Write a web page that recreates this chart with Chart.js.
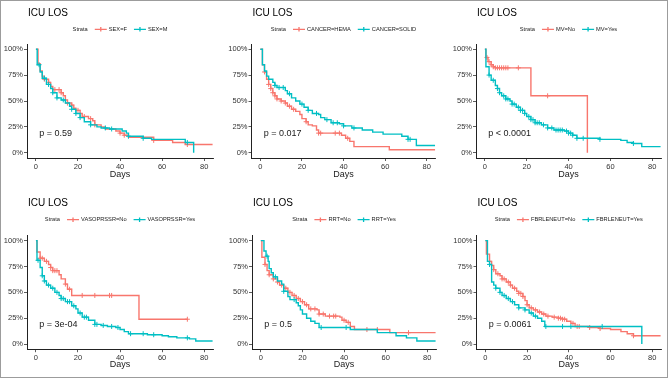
<!DOCTYPE html>
<html>
<head>
<meta charset="utf-8">
<script src="https://cdn.jsdelivr.net/npm/chart.js@4.4.1/dist/chart.umd.min.js"></script>
<style>
  html, body { margin: 0; padding: 0; background: #fff; }
  #fig { position: relative; width: 668px; height: 378px; overflow: hidden; background: #fff; }
  #fig canvas { position: absolute; }
  #frame { position: absolute; left: 0; top: 0; width: 668px; height: 378px; box-sizing: border-box; border: 1px solid #9c9c9c; pointer-events: none; }
</style>
</head>
<body>
<div id="fig">
  <canvas id="c1" width="222" height="189" style="left:0;top:0"></canvas>
  <canvas id="c2" width="223" height="189" style="left:222px;top:0"></canvas>
  <canvas id="c3" width="223" height="189" style="left:445px;top:0"></canvas>
  <canvas id="c4" width="222" height="189" style="left:0;top:189px"></canvas>
  <canvas id="c5" width="223" height="189" style="left:222px;top:189px"></canvas>
  <canvas id="c6" width="223" height="189" style="left:445px;top:189px"></canvas>
  <div id="frame"></div>
</div>
<script>
// ---- data ----
const xTicks = [0, 20, 40, 60, 80];
const yTicks = [0, 0.25, 0.5, 0.75, 1];
const plotTitle = 'ICU LOS';
const xTitle = 'Days';
const pvalues = ['p = 0.59', 'p = 0.017', 'p < 0.0001', 'p = 3e-04', 'p = 0.5', 'p = 0.0061'];
const strata = [
  ['SEX=F', 'SEX=M'],
  ['CANCER=HEMA', 'CANCER=SOLID'],
  ['MV=No', 'MV=Yes'],
  ['VASOPRSSR=No', 'VASOPRSSR=Yes'],
  ['RRT=No', 'RRT=Yes'],
  ['FBRLENEUT=No', 'FBRLENEUT=Yes']
];

// SEX
const sexF_time = [0, 1, 2, 3, 4, 6, 7, 8, 12, 13, 14, 15, 17, 18, 19, 21, 22, 25, 27, 28, 31, 33, 38, 40, 42, 44, 56, 65, 71, 84];
const sexF_surv = [1, .86, .79, .74, .71, .68, .64, .61, .58, .55, .51, .48, .46, .43, .41, .38, .35, .33, .31, .27, .25, .23, .21, .19, .17, .15, .12, .10, .08, .08];
const sexF_cens = [4, 6, 9, 11, 12, 15, 17, 20, 23, 26, 28, 40, 42, 56, 72];
const sexM_time = [0, 0.6, 2, 3, 5, 7, 8, 10, 12, 14, 16, 17, 19, 21, 23, 26, 29, 31, 35, 41, 43, 44, 51, 55, 71, 75];
const sexM_surv = [1, .85, .78, .72, .66, .62, .58, .53, .51, .48, .45, .42, .38, .34, .30, .27, .25, .24, .23, .21, .19, .16, .14, .13, .10, 0];
const sexM_cens = [1.5, 4, 6, 8, 10, 13, 17, 19, 21, 26, 33, 36, 44, 51, 72];

// CANCER
const hema_time = [0, 1, 2, 3, 4, 5, 6, 7, 8, 10, 12, 13, 15, 17, 19, 20, 22, 23, 25, 27, 28, 39, 41, 43, 45, 62, 84];
const hema_surv = [1, .85, .78, .71, .66, .62, .58, .55, .52, .50, .48, .45, .42, .40, .37, .33, .30, .27, .26, .22, .19, .17, .14, .11, .06, .03, .03];
const hema_cens = [2, 4, 5, 6, 7, 8, 10, 12, 14, 16, 22, 28, 29, 36, 38, 42];
const solid_time = [0, 1, 2, 3, 4, 6, 7, 8, 12, 13, 15, 17, 19, 21, 23, 25, 28, 29, 31, 34, 38, 40, 44, 49, 54, 59, 68, 71, 75, 84];
const solid_surv = [1, .85, .79, .74, .71, .68, .65, .63, .60, .57, .53, .50, .47, .44, .41, .38, .37, .34, .32, .29, .28, .26, .24, .22, .20, .18, .16, .13, .07, .07];
const solid_cens = [7, 9, 11, 14, 20, 23, 27, 32, 35, 37, 40, 45, 71, 72];

// MV
const mvNo_time = [0, 0.5, 1.5, 3, 4, 5, 22, 49];
const mvNo_surv = [1, .92, .88, .85, .83, .82, .55, 0];
const mvNo_cens = [1, 2, 3, 4, 5, 6, 7, 8, 9, 10, 11, 16, 30];
const mvYes_time = [0, 0.5, 2, 3, 5, 6, 7, 8, 10, 12, 13, 15, 17, 19, 20, 22, 24, 27, 30, 33, 38, 40, 42, 44, 55, 65, 68, 71, 75, 84];
const mvYes_surv = [1, .83, .75, .70, .65, .62, .58, .55, .52, .50, .47, .44, .41, .38, .35, .32, .29, .27, .24, .22, .21, .19, .17, .14, .13, .12, .10, .09, .06, .06];
const mvYes_cens = [2, 4, 6, 7, 9, 10, 11, 13, 14, 16, 17, 18, 19, 21, 22, 23, 24, 25, 26, 28, 30, 32, 34, 35, 36, 37, 39, 40, 41, 42, 44, 47, 55, 71];

// VASOPRSSR
const vasoNo_time = [0, 0.5, 2, 4, 6, 7, 8, 11, 12, 14, 15, 17, 49, 72];
const vasoNo_surv = [1, .89, .83, .80, .77, .74, .71, .67, .63, .58, .53, .47, .24, .24];
const vasoNo_cens = [2, 3, 5, 7, 8, 9, 10, 14, 16, 22, 28, 35, 36, 72];
const vasoYes_time = [0, 0.5, 2, 3, 4, 5, 7, 9, 11, 12, 14, 17, 19, 20, 22, 25, 28, 31, 34, 38, 40, 42, 44, 53, 60, 63, 67, 73, 76, 84];
const vasoYes_surv = [1, .81, .74, .66, .61, .57, .54, .50, .47, .44, .41, .37, .34, .30, .26, .23, .19, .18, .17, .16, .14, .12, .10, .09, .08, .07, .06, .05, .03, .03];
const vasoYes_cens = [1, 3, 4, 6, 8, 10, 12, 13, 15, 16, 18, 21, 23, 24, 28, 29, 32, 36, 39, 45, 51, 56, 72];

// RRT
const rrtNo_time = [0, 0.5, 2, 3, 4, 6, 8, 9, 11, 13, 15, 17, 19, 21, 23, 27, 28, 31, 38, 39, 41, 43, 45, 62, 84];
const rrtNo_surv = [1, .84, .77, .71, .67, .63, .60, .57, .54, .50, .47, .44, .41, .38, .34, .33, .29, .27, .26, .23, .21, .17, .14, .11, .11];
const rrtNo_cens = [2, 4, 6, 8, 10, 12, 14, 16, 18, 20, 22, 24, 26, 28, 30, 33, 35, 36, 40, 42, 51, 56, 71];
const rrtYes_time = [0, 1.5, 2.5, 3.5, 4, 5, 6, 8, 10, 11, 13, 14, 17, 18, 19, 20, 22, 24, 26, 28, 43, 56, 65, 70, 75, 84];
const rrtYes_surv = [1, .90, .85, .80, .73, .69, .65, .61, .58, .51, .46, .43, .40, .37, .33, .29, .25, .22, .20, .16, .14, .11, .08, .06, .03, .03];
const rrtYes_cens = [3, 7, 11, 16, 29, 41];

// FBRLENEUT
const fbrNo_time = [0, 0.5, 2, 3, 4, 5, 7, 8, 10, 12, 13, 15, 16, 18, 19, 20, 21, 23, 25, 27, 29, 32, 35, 37, 39, 41, 43, 50, 55, 60, 65, 68, 71, 84];
const fbrNo_surv = [1, .87, .80, .76, .72, .68, .66, .63, .60, .57, .54, .51, .49, .46, .42, .38, .35, .33, .31, .29, .27, .26, .25, .24, .22, .20, .17, .16, .15, .14, .12, .10, .08, .08];
const fbrNo_cens = [2, 4, 6, 8, 9, 11, 12, 14, 16, 17, 18, 20, 22, 24, 26, 28, 30, 33, 35, 36, 37, 38, 42, 44, 45, 50, 55, 71];
const fbrYes_time = [0, 1, 2, 3, 4, 5, 7, 8, 10, 12, 14, 16, 19, 21, 23, 25, 27, 28.5, 75];
const fbrYes_surv = [1, .80, .77, .60, .57, .54, .50, .47, .44, .41, .38, .35, .33, .30, .27, .25, .22, .17, 0];
const fbrYes_cens = [2, 5, 7, 9, 11, 13, 16, 19, 22, 24, 29, 37, 41, 56];

const curves = [
  [[sexF_time, sexF_surv, sexF_cens], [sexM_time, sexM_surv, sexM_cens]],
  [[hema_time, hema_surv, hema_cens], [solid_time, solid_surv, solid_cens]],
  [[mvNo_time, mvNo_surv, mvNo_cens], [mvYes_time, mvYes_surv, mvYes_cens]],
  [[vasoNo_time, vasoNo_surv, vasoNo_cens], [vasoYes_time, vasoYes_surv, vasoYes_cens]],
  [[rrtNo_time, rrtNo_surv, rrtNo_cens], [rrtYes_time, rrtYes_surv, rrtYes_cens]],
  [[fbrNo_time, fbrNo_surv, fbrNo_cens], [fbrYes_time, fbrYes_surv, fbrYes_cens]]
];

// ---- layout / style ----
const RED = '#F8766D', TEAL = '#00BFC4';
const FONT = '"Liberation Sans", Arial, Helvetica, sans-serif';

const boxes = [
  {id: 'c1', w: 222, h: 189, axis: 27, right: 213, plotTop: 44, plotBot: 158, titleY: 15.5, legendY: 29.3, daysPad: 9.3},
  {id: 'c2', w: 223, h: 189, axis: 29.5, right: 213.5, plotTop: 44, plotBot: 158, titleY: 15.5, legendY: 29.3, daysPad: 9.3},
  {id: 'c3', w: 223, h: 189, axis: 31, right: 216, plotTop: 44, plotBot: 158, titleY: 15.5, legendY: 29.3, daysPad: 9.3},
  {id: 'c4', w: 222, h: 189, axis: 27, right: 213, plotTop: 46.5, plotBot: 160.2, titleY: 17, legendY: 30.7, daysPad: 7.9},
  {id: 'c5', w: 223, h: 189, axis: 30, right: 214, plotTop: 46.5, plotBot: 160.2, titleY: 17, legendY: 30.7, daysPad: 7.9},
  {id: 'c6', w: 223, h: 189, axis: 31.5, right: 216, plotTop: 46.5, plotBot: 160.2, titleY: 17, legendY: 30.7, daysPad: 7.9}
];

function stepPoints(times, surv) {
  return times.map((t, i) => ({x: t, y: surv[i]}));
}

// survival value of the step curve at time t (for placing censor ticks on it)
function survAt(times, surv, t) {
  let s = surv[0];
  for (let i = 0; i < times.length; i++) {
    if (times[i] <= t) s = surv[i];
  }
  return s;
}

function censPoints(times, surv, cens) {
  return cens.map(t => ({x: t, y: survAt(times, surv, t)}));
}

const kmDecor = {
  id: 'kmDecor',
  afterDraw(chart, args, opts) {
    const {ctx, chartArea: a, scales: {x, y}} = chart;
    ctx.save();

    // title
    ctx.fillStyle = '#000';
    ctx.textAlign = 'left';
    ctx.textBaseline = 'alphabetic';
    ctx.font = '10px ' + FONT;
    ctx.fillText(opts.title, a.left + 1, opts.titleY);

    // p value
    ctx.font = '9px ' + FONT;
    ctx.fillStyle = '#1a1a1a';
    ctx.textBaseline = 'middle';
    ctx.fillText(opts.pval, x.getPixelForValue(1.6), y.getPixelForValue(0.19));

    // legend: Strata  -+- label  -+- label
    ctx.font = '5.7px ' + FONT;
    const wS = ctx.measureText('Strata').width;
    const w1 = ctx.measureText(opts.names[0]).width;
    const w2 = ctx.measureText(opts.names[1]).width;
    const keyW = 12, gapKey = 2, gapItem = 7;
    const total = wS + gapItem + keyW + gapKey + w1 + gapItem + keyW + gapKey + w2;
    let cx = (a.left + a.right) / 2 - total / 2;
    const ly = opts.legendY;
    ctx.fillStyle = '#222';
    ctx.fillText('Strata', cx, ly);
    cx += wS + gapItem;
    [RED, TEAL].forEach((col, i) => {
      ctx.strokeStyle = col;
      ctx.lineWidth = 1.3;
      ctx.beginPath();
      ctx.moveTo(cx, ly);
      ctx.lineTo(cx + keyW, ly);
      ctx.moveTo(cx + keyW / 2, ly - 2.2);
      ctx.lineTo(cx + keyW / 2, ly + 2.2);
      ctx.stroke();
      cx += keyW + gapKey;
      ctx.fillStyle = '#222';
      ctx.fillText(opts.names[i], cx, ly);
      cx += (i === 0 ? w1 : w2) + gapItem;
    });

    ctx.restore();
  }
};

boxes.forEach((b, k) => {
  const [a, c] = curves[k];
  new Chart(document.getElementById(b.id), {
    type: 'line',
    data: {
      datasets: [
        {label: strata[k][0], data: stepPoints(a[0], a[1]), borderColor: RED, stepped: 'before', order: 3},
        {label: strata[k][0] + ' censored', data: censPoints(a[0], a[1], a[2]), borderColor: RED, showLine: false,
         pointStyle: 'cross', pointRadius: 2.5, pointBorderWidth: 1, pointBorderColor: RED, order: 2},
        {label: strata[k][1], data: stepPoints(c[0], c[1]), borderColor: TEAL, stepped: 'before', order: 1},
        {label: strata[k][1] + ' censored', data: censPoints(c[0], c[1], c[2]), borderColor: TEAL, showLine: false,
         pointStyle: 'cross', pointRadius: 2.5, pointBorderWidth: 1, pointBorderColor: TEAL, order: 0}
      ]
    },
    options: {
      responsive: false,
      animation: false,
      devicePixelRatio: 1,
      layout: {padding: {left: b.axis - 27, right: b.w - b.right, top: b.plotTop, bottom: 0}},
      elements: {
        line: {borderWidth: 1.4, tension: 0, fill: false},
        point: {radius: 0, hoverRadius: 0}
      },
      plugins: {
        legend: {display: false},
        tooltip: {enabled: false},
        kmDecor: {title: plotTitle, pval: pvalues[k], names: strata[k], titleY: b.titleY, legendY: b.legendY}
      },
      scales: {
        x: {
          type: 'linear',
          min: -4.25,
          max: 84.2,
          afterBuildTicks: s => { s.ticks = xTicks.map(v => ({value: v})); },
          afterFit: s => { s.height = b.h - b.plotBot; },
          grid: {display: true, drawOnChartArea: false, drawTicks: true, tickLength: 3, color: '#333', lineWidth: 0.8},
          border: {display: true, color: '#222', width: 1},
          ticks: {color: '#333', font: {family: FONT, size: 7.5}, padding: 1, maxRotation: 0},
          title: {display: true, text: xTitle, color: '#222', font: {family: FONT, size: 9}, padding: {top: 0, bottom: b.daysPad}}
        },
        y: {
          min: -0.05,
          max: 1.05,
          afterBuildTicks: s => { s.ticks = yTicks.map(v => ({value: v})); },
          afterFit: s => { s.width = 27; },
          grid: {display: true, drawOnChartArea: false, drawTicks: true, tickLength: 3, color: '#333', lineWidth: 0.8},
          border: {display: true, color: '#222', width: 1},
          ticks: {color: '#333', font: {family: FONT, size: 7.5}, padding: 1,
                  callback: v => Math.round(v * 100) + '%'}
        }
      }
    },
    plugins: [kmDecor]
  });
});
</script>
</body>
</html>
